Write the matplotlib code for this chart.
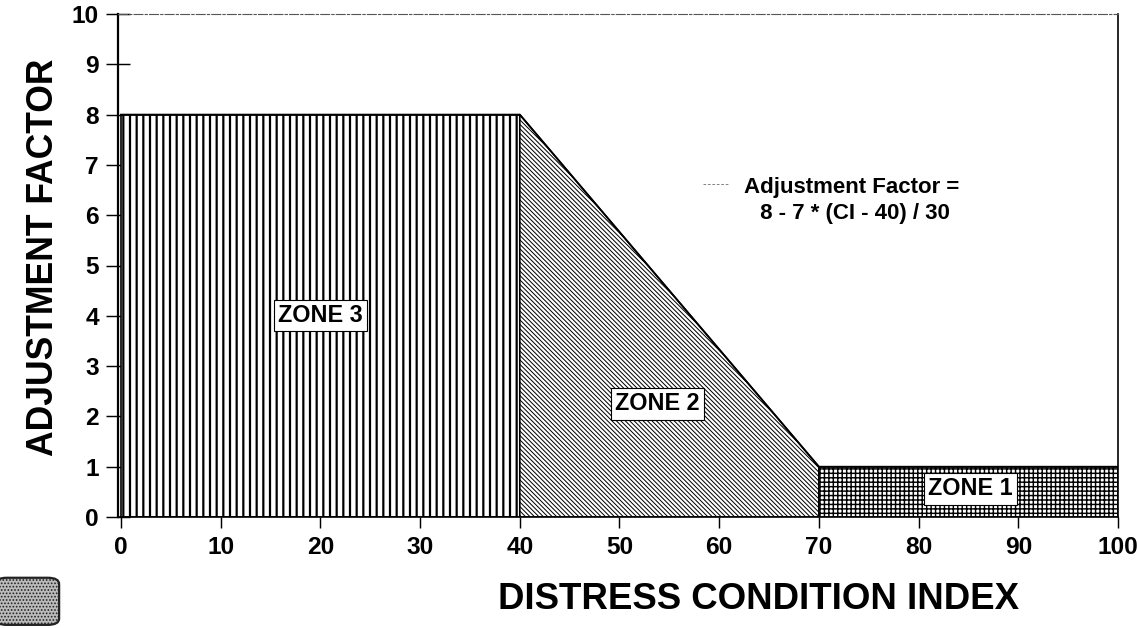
import numpy as np
import matplotlib
matplotlib.use('Agg')
import matplotlib.pyplot as plt
from matplotlib.patches import FancyBboxPatch

# breakpoints of the adjustment factor curve
ci = [0, 40, 70, 100]
af = [8, 8, 1, 1]

zones = ['ZONE 3', 'ZONE 2', 'ZONE 1']
zone_spans = [(0, 40), (40, 70), (70, 100)]
zone_hatch = ['||', '\\' * 6, '+++']
zone_hatch_lw = [2.0, 0.9, 1.3]
zone_label_pos = [(20, 4.0), (53.8, 2.25), (85.2, 0.56)]

xticks = [0, 10, 20, 30, 40, 50, 60, 70, 80, 90, 100]
yticks = [0, 1, 2, 3, 4, 5, 6, 7, 8, 9, 10]

plt.rcParams['font.family'] = ['Liberation Sans', 'DejaVu Sans']
plt.rcParams['font.weight'] = 'bold'

DPI = 80
fig = plt.figure(figsize=(1137 / DPI, 628 / DPI), dpi=DPI)
ax = fig.add_axes([118 / 1137, 1 - 517 / 628, (1118 - 118) / 1137, (517 - 14) / 628])

x = np.array(ci, dtype=float)
y = np.array(af, dtype=float)
for (x0, x1), h, hlw in zip(zone_spans, zone_hatch, zone_hatch_lw):
    m = (x >= x0) & (x <= x1)
    with plt.rc_context({'hatch.linewidth': hlw}):
        coll = ax.fill_between(x[m], 0, y[m], facecolor='white', edgecolor='black',
                               hatch=h, linewidth=1.5, zorder=2)
    if hasattr(coll, 'set_hatch_linewidth'):
        coll.set_hatch_linewidth(hlw)
ax.plot(ci, af, color='black', lw=1.6, zorder=3)

for name, (zx, zy) in zip(zones, zone_label_pos):
    ax.text(zx, zy, name, ha='center', va='center', fontsize=21, fontweight='bold',
            zorder=5, bbox=dict(boxstyle='square,pad=0.18', fc='white', ec='black', lw=1.0))

ax.text(73.3, 6.3, 'Adjustment Factor =\n 8 - 7 * (CI - 40) / 30', ha='center', va='center',
        fontsize=20, fontweight='bold', linespacing=1.3, zorder=5)
ax.plot([58.4, 61.0], [6.62, 6.62], color='#777777', lw=0.8, ls=(0, (3, 2)))

ax.set_xlim(-0.3, 100)
ax.set_ylim(0, 10)
ax.set_xticks(xticks)
ax.set_yticks(yticks)
ax.tick_params(axis='y', direction='inout', length=22, width=1.3, labelsize=22, pad=6)
ax.tick_params(axis='x', direction='out', length=10, width=1.3, labelsize=22, pad=7)
for lab in ax.get_xticklabels() + ax.get_yticklabels():
    lab.set_fontweight('bold')

ax.spines['left'].set_linewidth(2.0)
ax.spines['right'].set_linewidth(1.5)
ax.spines['bottom'].set_linewidth(1.5)
ax.spines['top'].set_linewidth(1.0)
ax.spines['top'].set_color('#555555')
ax.spines['top'].set_linestyle((0, (8, 2, 2, 2)))

ax.set_xlabel('DISTRESS CONDITION INDEX', fontsize=33, fontweight='bold')
ax.set_ylabel('ADJUSTMENT FACTOR', fontsize=32, fontweight='bold')
ax.xaxis.set_label_coords(0.64, -0.165)
ax.yaxis.set_label_coords(-0.074, 0.517)
ax.xaxis.label.set_va('center')
ax.yaxis.label.set_va('center')

# small corner emblem
logo = FancyBboxPatch((-0.004, 0.005), 0.056, 0.075, boxstyle='round,pad=0.0,rounding_size=0.01',
                      transform=fig.transFigure, facecolor='#bbbbbb', edgecolor='#222222',
                      hatch='....', linewidth=2.0)
fig.patches.append(logo)

fig.savefig('out.png', dpi=DPI)
